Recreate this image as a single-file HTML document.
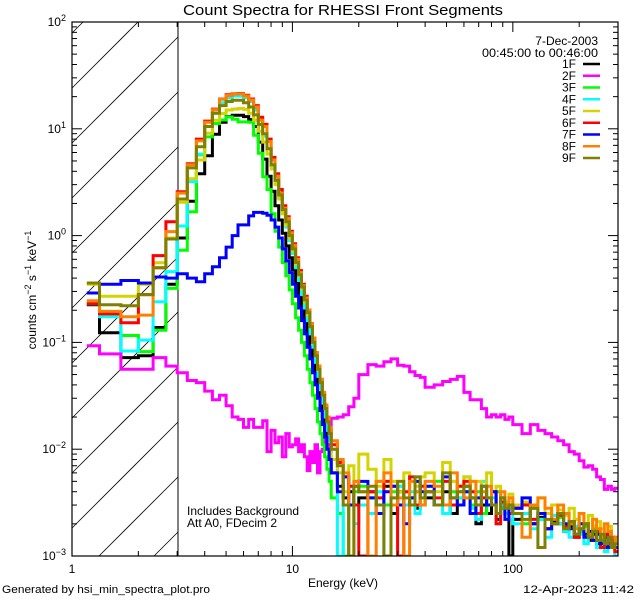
<!DOCTYPE html>
<html><head><meta charset="utf-8"><title>Count Spectra for RHESSI Front Segments</title>
<style>
html,body{margin:0;padding:0;background:#fff;width:640px;height:600px;overflow:hidden;}
svg{display:block;font-family:"Liberation Sans",sans-serif;}
</style></head>
<body>
<svg id="chart" width="640" height="600" viewBox="0 0 640 600">
<rect x="0" y="0" width="640" height="600" fill="#fff"/>
<defs><clipPath id="pc"><rect x="72" y="22" width="546" height="534"/></clipPath></defs>
<text x="343" y="15" text-anchor="middle" font-size="15" textLength="320" lengthAdjust="spacingAndGlyphs">Count Spectra for RHESSI Front Segments</text>
<g id="hatch"></g>
<line x1="178" y1="22" x2="178" y2="556" stroke="#000" stroke-width="1"/>
<g id="series" clip-path="url(#pc)"></g>
<rect x="72" y="22" width="546" height="534" fill="none" stroke="#000" stroke-width="1.2"/>
<g id="ticks"></g>
<text transform="translate(36,290) rotate(-90)" text-anchor="middle" font-size="12">counts cm<tspan dy="-5" font-size="9">−2</tspan><tspan dy="5"> s</tspan><tspan dy="-5" font-size="9">−1</tspan><tspan dy="5"> keV</tspan><tspan dy="-5" font-size="9">−1</tspan></text>
<text x="343" y="587" text-anchor="middle" font-size="12">Energy (keV)</text>
<text x="598" y="45" text-anchor="end" font-size="12">7-Dec-2003</text>
<text x="598" y="57" text-anchor="end" font-size="12" textLength="116" lengthAdjust="spacingAndGlyphs">00:45:00 to 00:46:00</text>
<g id="legend"></g>
<text x="187" y="515" font-size="12">Includes Background</text>
<text x="187" y="527" font-size="12">Att A0, FDecim 2</text>
<text x="2" y="593" font-size="11" textLength="208" lengthAdjust="spacingAndGlyphs">Generated by hsi_min_spectra_plot.pro</text>
<text x="634" y="593" text-anchor="end" font-size="11" textLength="111" lengthAdjust="spacingAndGlyphs">12-Apr-2023 11:42</text>
</svg>
<script>
const edges=[1.1667,1.3333,1.6667,2,2.3333,2.6667,3,3.3333,3.6667,4,4.3333,4.6667,5,5.3333,5.6667,6,6.3333,6.6667,7,7.3333,7.6667,8,8.3333,8.6667,9,9.3333,9.6667,10,10.333,10.667,11,11.333,11.667,12,12.333,12.667,13,13.333,13.667,14,14.333,14.667,15,16,17,18,19,20,22,24,26,28,30,32,34,36,38,40,44,48,52,56,60,64,68,72,76,80,84,88,92,96,100,110,120,130,140,150,160,170,180,190,200,210,220,230,240,250,260,270,280,290,300];
const segNames=["1F","2F","3F","4F","5F","6F","7F","8F","9F"];
const segColors=["#000000","#ff00ff","#00ff00","#00ffff","#d4d400","#ff0000","#0000ff","#ff8000","#808000"];
const s1F=[0.225,0.123,0.072,0.075,0.138,0.35,
0.95,2.1,3.8,5.6,8.9,11.5,13,13.4,13.4,13,12.2,10.5,
7.5,5.2,3.6,2.6,1.9,1.4,1.05,0.8,0.62,0.48,0.36,0.28,
0.21,0.16,0.12,0.09,0.065,0.048,0.036,0.027,0.02,0.015,0.011,0.008,
0.006,0.0045,0.0035,0.004,0.003,
0.0035,0.004,0.003,0.0045,0.0025,0.004,0.003,0.0035,0.0028,0.003,
0.0035,0.003,0.004,0.0025,0.003,0.0045,0.0035,0.002,0.003,0.0025,0.003,0.0022,0.0028,0.0025,0.0008,
0.0022,0.0025,0.002,0.0023,0.0018,0.0021,0.002,0.0017,0.0019,0.0015,0.0017,0.0016,0.0014,0.0016,0.0013,0.0014,0.0012,0.0015,0.0013,0.0012];
const s2F=[0.093,0.078,0.056,0.056,0.072,0.06,
0.052,0.044,0.042,0.035,0.029,0.032,0.0255,0.020,0.019,0.016,0.019,0.016,
0.016,0.0185,0.0095,0.015,0.0115,0.013,0.0085,0.014,0.0105,0.011,0.0125,0.0095,
0.011,0.0085,0.0063,0.0095,0.0075,0.011,0.006,0.0095,0.01,0.013,0.011,0.0095,
0.0195,0.02,0.021,0.025,0.03,
0.05,0.062,0.06,0.066,0.07,0.061,0.06,0.053,0.049,0.047,
0.038,0.04,0.043,0.045,0.048,0.034,0.029,0.029,0.024,0.02,0.021,0.02,0.021,0.019,0.02,
0.017,0.014,0.017,0.015,0.014,0.013,0.012,0.011,0.0095,0.009,0.0078,0.0068,0.007,0.0065,0.0055,0.0052,0.0042,0.0045,0.0042,0.0043];
const s3F=[0.23,0.18,0.116,0.082,0.13,0.32,
0.73,1.67,5.7,8.4,11.2,12.1,12.9,12.3,11.6,11.6,11.5,8.7,
5.9,3.55,2.7,1.6,1.1,0.78,0.56,0.42,0.31,0.23,0.17,0.13,
0.1,0.075,0.056,0.042,0.032,0.024,0.018,0.014,0.011,0.0085,0.0065,0.005,
0.0035,0.0025,0.0008,0.003,0.004,
0.0045,0.0035,0.005,0.003,0.004,0.0045,0.003,0.0035,0.004,0.003,
0.0045,0.005,0.003,0.004,0.0035,0.0055,0.003,0.004,0.0025,0.0035,0.003,0.004,0.0028,0.003,0.0025,
0.0025,0.002,0.0028,0.0022,0.0025,0.002,0.0023,0.0018,0.002,0.0022,0.0017,0.0019,0.0015,0.0018,0.0016,0.0014,0.0015,0.0013,0.0012,0.0014];
const s4F=[0.23,0.174,0.083,0.105,0.24,0.46,
1.23,3.2,5.8,10.5,14,17.5,19.5,20.3,20.3,19.5,18,15,
11,8.5,6.5,4.5,3.2,2.3,1.6,1.2,0.9,0.68,0.5,0.38,
0.28,0.21,0.16,0.12,0.09,0.065,0.048,0.036,0.027,0.02,0.015,0.012,
0.01,0.0008,0.003,0.0045,0.002,
0.003,0.0025,0.004,0.0008,0.0035,0.0045,0.003,0.004,0.0025,0.0035,
0.004,0.003,0.0025,0.005,0.0035,0.004,0.0028,0.0022,0.005,0.003,0.0035,0.002,0.003,0.0025,0.0028,
0.002,0.0025,0.0018,0.0022,0.0015,0.0024,0.002,0.0017,0.0015,0.0019,0.0016,0.0013,0.0017,0.0014,0.0012,0.0015,0.0011,0.0013,0.0012,0.001];
const s5F=[0.35,0.27,0.27,0.35,0.557,0.95,
2.05,3.4,5.1,9.1,12,13.9,15,15.3,15.5,15.2,14,12,
9.5,7.5,5.8,4.2,3,2.2,1.6,1.25,0.95,0.72,0.54,0.42,
0.32,0.24,0.18,0.14,0.1,0.075,0.055,0.042,0.032,0.024,0.018,0.014,
0.008,0.006,0.004,0.007,0.005,
0.009,0.0065,0.0045,0.008,0.005,0.004,0.006,0.005,0.0045,0.0055,
0.006,0.004,0.0075,0.005,0.0045,0.0055,0.004,0.005,0.0035,0.006,0.004,0.0045,0.0035,0.0032,0.0038,
0.003,0.0032,0.0028,0.0035,0.0025,0.003,0.0027,0.0024,0.0028,0.0022,0.0025,0.002,0.0024,0.0019,0.0021,0.0018,0.0016,0.0019,0.0015,0.0014];
const s6F=[0.23,0.185,0.153,0.28,0.65,1.35,
2.57,4.7,8.0,11.8,15.3,19,20.8,21.3,21.4,20.6,19,16.5,
12.8,11,8,5.4,3.8,2.7,1.9,1.5,1.1,0.84,0.62,0.47,
0.35,0.27,0.2,0.15,0.11,0.08,0.06,0.045,0.033,0.025,0.019,0.015,
0.011,0.0075,0.0055,0.0045,0.003,
0.0008,0.004,0.0035,0.005,0.0045,0.0008,0.004,0.0055,0.003,0.0045,
0.004,0.0035,0.005,0.003,0.0045,0.005,0.004,0.0025,0.0035,0.003,0.004,0.002,0.0032,0.003,0.0025,
0.0028,0.003,0.0022,0.0025,0.0018,0.002,0.0024,0.0019,0.0021,0.0015,0.0018,0.002,0.0015,0.0014,0.0017,0.0012,0.0016,0.0013,0.0015,0.0011];
const s7F=[0.29,0.35,0.38,0.36,0.41,0.40,
0.44,0.40,0.37,0.44,0.51,0.62,0.78,1.0,1.26,1.26,1.53,1.65,
1.65,1.62,1.55,1.4,1.2,0.95,0.75,0.58,0.45,0.35,0.27,0.21,
0.16,0.12,0.09,0.07,0.052,0.04,0.03,0.023,0.017,0.013,0.01,0.008,
0.006,0.004,0.0055,0.003,0.0045,
0.005,0.0035,0.0025,0.004,0.0045,0.003,0.002,0.0035,0.005,0.004,
0.0045,0.003,0.0055,0.0035,0.003,0.004,0.0025,0.0035,0.0045,0.003,0.004,0.0025,0.0035,0.0022,0.003,
0.0028,0.0035,0.002,0.0025,0.0018,0.0022,0.0025,0.002,0.0018,0.0016,0.002,0.0015,0.0017,0.0014,0.0016,0.0013,0.0015,0.0012,0.0014,0.0012];
const s8F=[0.245,0.195,0.174,0.18,0.5,1.09,
2.5,4.6,7.7,11.5,15.1,18.9,20.5,21.2,21.2,20.3,18.6,16.0,
12.0,10.5,7.6,5.1,3.6,2.5,1.8,1.45,1.06,0.81,0.6,0.45,
0.34,0.26,0.2,0.15,0.11,0.08,0.06,0.045,0.034,0.026,0.02,0.016,
0.012,0.008,0.006,0.0008,0.005,
0.004,0.0008,0.005,0.006,0.003,0.0035,0.0008,0.005,0.004,0.003,
0.005,0.0045,0.003,0.006,0.004,0.0035,0.005,0.003,0.004,0.0045,0.003,0.0025,0.004,0.003,0.0035,
0.0025,0.0015,0.003,0.0035,0.0028,0.0022,0.003,0.0025,0.002,0.0018,0.0025,0.002,0.0016,0.0022,0.0018,0.0015,0.002,0.0017,0.0012,0.0015];
const s9F=[0.36,0.225,0.22,0.28,0.5,0.93,
2.2,4.3,6.8,10.5,14,16.5,18,18.5,18.5,17.5,16,13.5,
11,9,6.5,4.6,3.3,2.4,1.75,1.35,1.0,0.75,0.56,0.43,
0.33,0.25,0.19,0.14,0.1,0.075,0.056,0.042,0.032,0.024,0.018,0.014,
0.01,0.007,0.003,0.0008,0.0045,
0.004,0.0045,0.003,0.0008,0.0035,0.005,0.0035,0.003,0.0055,0.0035,
0.004,0.003,0.006,0.0035,0.004,0.0045,0.0035,0.003,0.0045,0.0035,0.003,0.0025,0.0035,0.0028,0.003,
0.0025,0.0022,0.0028,0.0012,0.0022,0.002,0.0025,0.0018,0.0021,0.0016,0.0018,0.002,0.0015,0.0017,0.0014,0.0016,0.0013,0.0015,0.0012,0.0013];
const seriesValues=[s1F,s2F,s3F,s4F,s5F,s6F,s7F,s8F,s9F];
const xDecadeLabels=["1","10","100"];
const yDecadeExps=["2","1","0","−1","−2","−3"];

const NS="http://www.w3.org/2000/svg";
const X0=72,X1=618,Y0=22,Y1=556,XMIN=1,XMAX=300,YMIN=0.001,YMAX=100,XH=178;
function xs(v){return X0+(Math.log10(v)-Math.log10(XMIN))/(Math.log10(XMAX)-Math.log10(XMIN))*(X1-X0);}
function ys(v){v=Math.max(v,0.0007);return Math.min(Y1,Y0+(Math.log10(YMAX)-Math.log10(v))/(Math.log10(YMAX)-Math.log10(YMIN))*(Y1-Y0));}
function mk(tag,attrs,parent){const e=document.createElementNS(NS,tag);for(const k in attrs)e.setAttribute(k,attrs[k]);parent.appendChild(e);return e;}

const hg=document.getElementById('hatch');
for(let c=88-55*2;c<Y1+(XH-X0);c+=55){
  const xa=Math.max(X0,X0+c-Y1),xb=Math.min(XH,X0+c-Y0);
  if(xb<=xa)continue;
  const ln=mk('line',{x1:xa,y1:c-(xa-X0),x2:xb,y2:c-(xb-X0),stroke:'#000','stroke-width':0.8},hg);
  
  
}
const sg=document.getElementById('series');
seriesValues.forEach((vals,si)=>{
  let d='';
  for(let i=0;i<vals.length;i++){
    const xa=xs(edges[i]).toFixed(1),xb=xs(edges[i+1]).toFixed(1),y=ys(vals[i]).toFixed(1);
    d+=(i===0?'M':'L')+xa+','+y+'L'+xb+','+y;
  }
  const p=mk('path',{d:d,fill:'none',stroke:segColors[si],'stroke-width':3,'stroke-linejoin':'miter'},sg);
  
  
});
const tg=document.getElementById('ticks');
for(let dec=0;dec<3;dec++){
  for(let m=1;m<10;m++){
    const v=Math.pow(10,dec)*m; if(v>XMAX)break;
    const x=xs(v),len=(m===1)?10:5;
    const t1=mk('line',{x1:x,y1:Y1,x2:x,y2:Y1-len,stroke:'#000','stroke-width':1},tg);
    
    
    const t2=mk('line',{x1:x,y1:Y0,x2:x,y2:Y0+len,stroke:'#000','stroke-width':1},tg);
    
    
  }
}
xDecadeLabels.forEach((lab,i)=>{
  const t=mk('text',{x:xs(Math.pow(10,i)),y:573,'text-anchor':'middle','font-size':12},tg);
  t.textContent=lab;
  
  
});
for(let e=-3;e<=2;e++){
  for(let m=1;m<10;m++){
    const v=Math.pow(10,e)*m; if(v>YMAX)break;
    const y=ys(v),len=(m===1)?10:5;
    const a=mk('line',{x1:X0,y1:y,x2:X0+len,y2:y,stroke:'#000','stroke-width':1},tg);
    
    
    const b=mk('line',{x1:X1,y1:y,x2:X1-len,y2:y,stroke:'#000','stroke-width':1},tg);
    
    
  }
}
yDecadeExps.forEach((ex,i)=>{
  const y=ys(Math.pow(10,2-i));
  const t=mk('text',{x:66,y:y+4,'text-anchor':'end','font-size':12},tg);
  
  
  const a=document.createElementNS(NS,'tspan');a.textContent='10';t.appendChild(a);
  const b=document.createElementNS(NS,'tspan');b.setAttribute('dy','-5');b.setAttribute('font-size','9');b.textContent=ex;t.appendChild(b);
});
const lg=document.getElementById('legend');
segNames.forEach((n,i)=>{
  const y=64+i*11.75;
  const t=mk('text',{x:576,y:y+4,'text-anchor':'end','font-size':12},lg);
  t.textContent=n;
  
  
  const l=mk('line',{x1:583,y1:y,x2:600,y2:y,stroke:segColors[i],'stroke-width':2.5},lg);
  
  
});
</script>
</body></html>
